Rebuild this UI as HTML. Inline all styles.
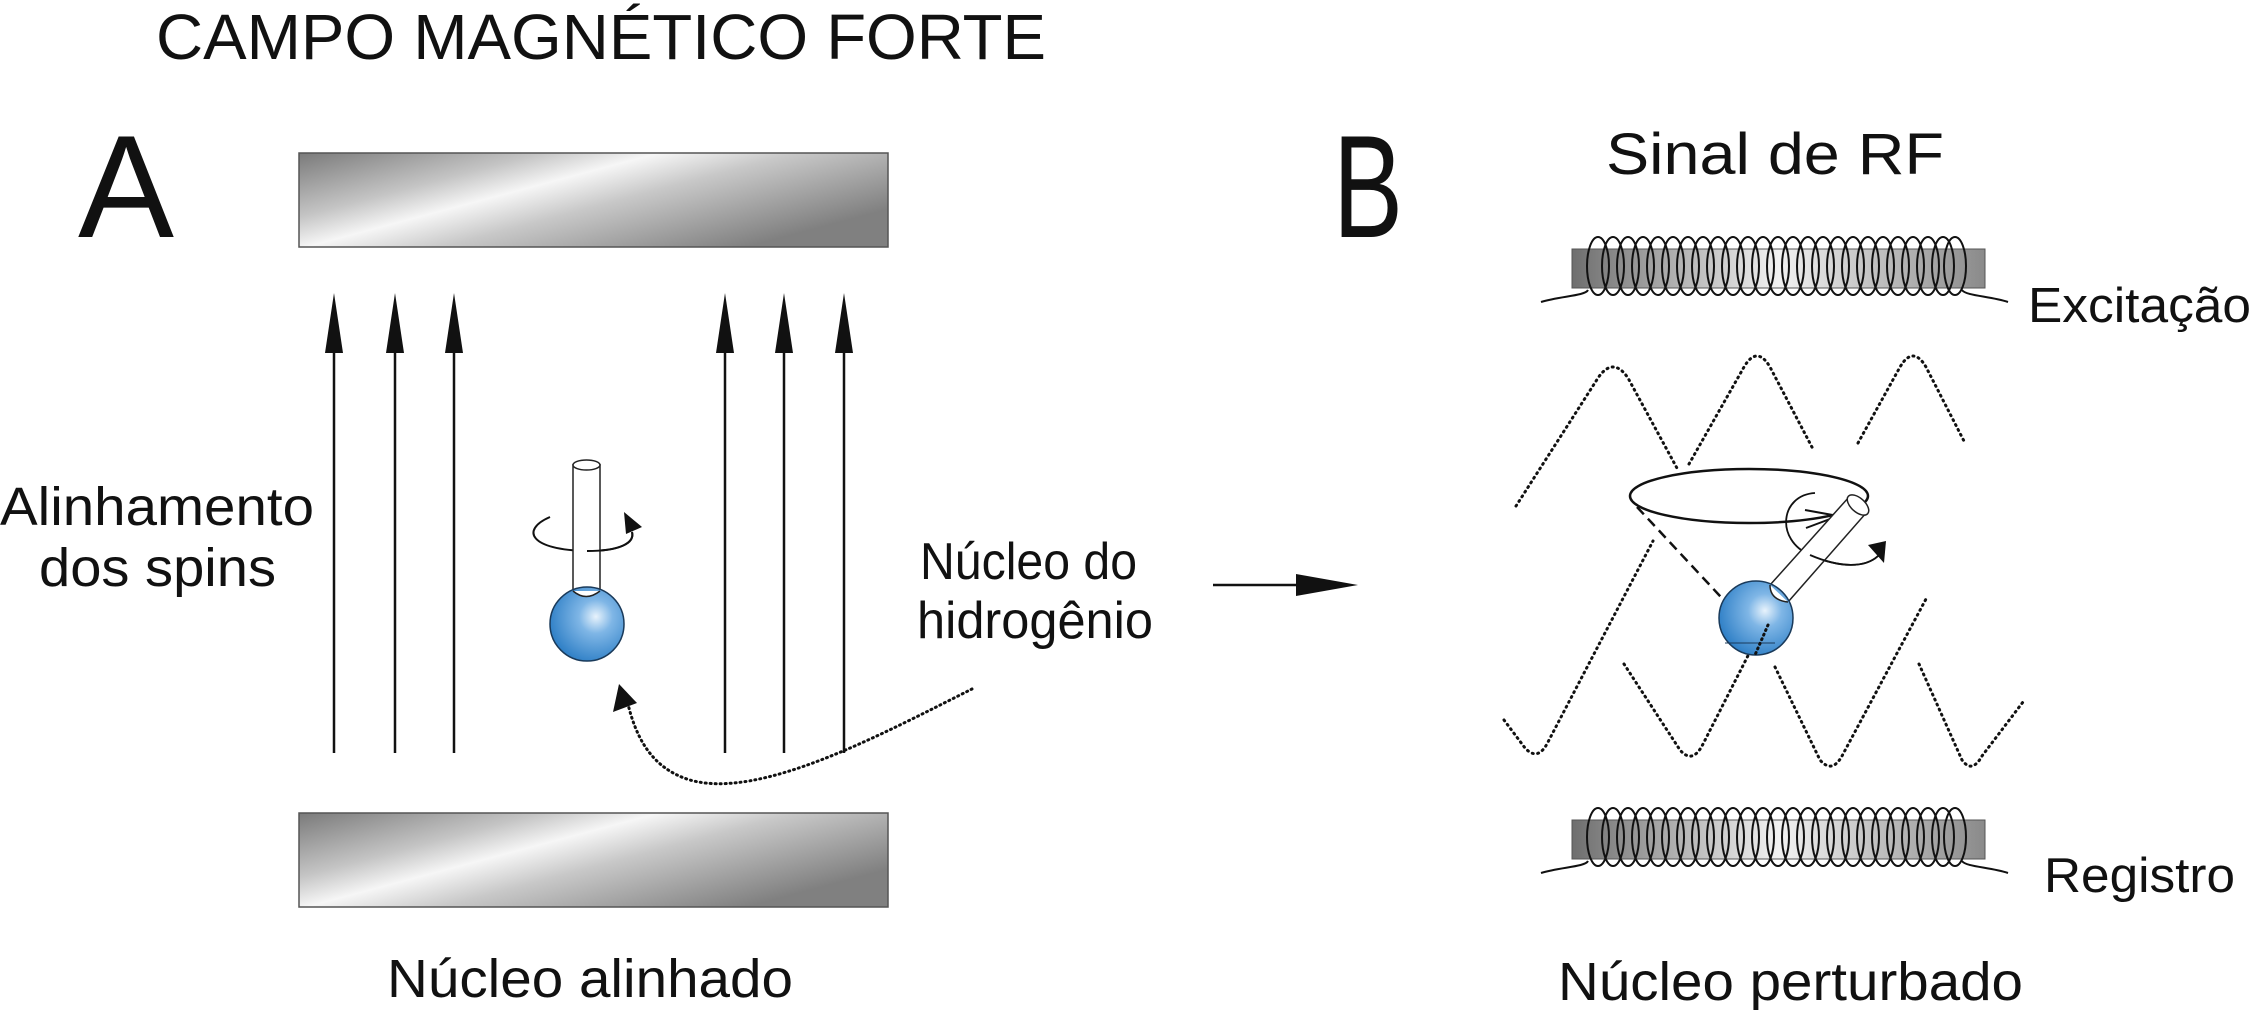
<!DOCTYPE html>
<html><head><meta charset="utf-8"><style>html,body{margin:0;padding:0;background:#fff}svg{display:block}</style></head>
<body>
<svg width="2251" height="1010" viewBox="0 0 2251 1010" xmlns="http://www.w3.org/2000/svg" font-family="Liberation Sans, sans-serif" fill="#111">
<defs>
<linearGradient id="bar" x1="0" y1="0" x2="1" y2="0.6">
<stop offset="0" stop-color="#7a7a7a"/><stop offset="0.3" stop-color="#c4c4c4"/><stop offset="0.45" stop-color="#f6f6f6"/><stop offset="0.62" stop-color="#c8c8c8"/><stop offset="1" stop-color="#808080"/>
</linearGradient>
<linearGradient id="coil" x1="0" y1="0" x2="1" y2="0">
<stop offset="0" stop-color="#6e6e6e"/><stop offset="0.5" stop-color="#f2f2f2"/><stop offset="1" stop-color="#8a8a8a"/>
</linearGradient>
<radialGradient id="ball" cx="0.62" cy="0.4" r="0.65">
<stop offset="0" stop-color="#e8f3fc"/><stop offset="0.35" stop-color="#7fb6e6"/><stop offset="1" stop-color="#2e7fc6"/>
</radialGradient>
<marker id="ah" viewBox="0 0 10 10" refX="10" refY="5" markerWidth="10" markerHeight="10" markerUnits="userSpaceOnUse" orient="auto"><path d="M0,0L10,5L0,10z" fill="#111"/></marker>
</defs>

<!-- Titles -->
<text x="156" y="59" font-size="64" textLength="890" lengthAdjust="spacingAndGlyphs">CAMPO MAGNÉTICO FORTE</text>
<text x="78" y="237" font-size="146" textLength="96" lengthAdjust="spacingAndGlyphs">A</text>
<text x="1333" y="237" font-size="146" textLength="70" lengthAdjust="spacingAndGlyphs">B</text>

<!-- Bars -->
<rect x="299" y="153" width="589" height="94" fill="url(#bar)" stroke="#555" stroke-width="1.5"/>
<rect x="299" y="813" width="589" height="94" fill="url(#bar)" stroke="#555" stroke-width="1.5"/>

<!-- Field arrows -->
<g stroke="#111" stroke-width="2.5">
<line x1="334" y1="753" x2="334" y2="345"/><line x1="395" y1="753" x2="395" y2="345"/><line x1="454" y1="753" x2="454" y2="345"/>
<line x1="725" y1="753" x2="725" y2="345"/><line x1="784" y1="753" x2="784" y2="345"/><line x1="844" y1="753" x2="844" y2="345"/>
</g>
<g fill="#111">
<path d="M334,293L325,353L343,353z"/><path d="M395,293L386,353L404,353z"/><path d="M454,293L445,353L463,353z"/>
<path d="M725,293L716,353L734,353z"/><path d="M784,293L775,353L793,353z"/><path d="M844,293L835,353L853,353z"/>
</g>

<text x="0" y="525" font-size="54" textLength="314" lengthAdjust="spacingAndGlyphs">Alinhamento</text>
<text x="39" y="586" font-size="54" textLength="237" lengthAdjust="spacingAndGlyphs">dos spins</text>

<!-- Left nucleus -->
<path d="M550,517 C520,530 530,550 587,551 C620,551 635,543 632,532" fill="none" stroke="#111" stroke-width="2"/>
<path d="M624,512L642,527L626,534z" fill="#111"/>
<rect x="573" y="465" width="27" height="128" fill="#fff" stroke="#222" stroke-width="1.5"/>
<ellipse cx="586.5" cy="465" rx="13.5" ry="5" fill="#fff" stroke="#222" stroke-width="1.5"/>
<path d="M587,551 C620,551 635,543 632,532" fill="none" stroke="#111" stroke-width="2"/>
<circle cx="587" cy="624" r="37" fill="url(#ball)" stroke="#1a3a5a" stroke-width="1.5"/>
<path d="M573,591 Q586,602 600,591" fill="#fff" stroke="#222" stroke-width="1.5"/>

<!-- dotted curve -->
<path d="M972,689 C880,735 760,800 690,780 C650,768 635,735 627,700" fill="none" stroke="#111" stroke-width="3" stroke-dasharray="1 4" stroke-linecap="round"/>
<path d="M619,684L613,712L637,703z" fill="#111"/>

<text x="920" y="579" font-size="52" textLength="217" lengthAdjust="spacingAndGlyphs">Núcleo do</text>
<text x="917" y="638" font-size="52" textLength="236" lengthAdjust="spacingAndGlyphs">hidrogênio</text>

<!-- Big arrow -->
<line x1="1213" y1="585" x2="1300" y2="585" stroke="#111" stroke-width="2.5"/>
<path d="M1358,585L1296,574L1296,596z" fill="#111"/>

<text x="1606" y="174" font-size="58" textLength="338" lengthAdjust="spacingAndGlyphs">Sinal de RF</text>

<!-- Top coil -->
<g id="coilg">
<rect x="1572" y="249" width="413" height="39" fill="url(#coil)" stroke="#555" stroke-width="1"/>
<g fill="none" stroke="#111" stroke-width="2">
<path d="M1541,302 C1560,296 1585,296 1588,290"/>
<path d="M1962,290 C1966,296 1990,296 2008,302"/>
</g>
<g fill="none" stroke="#111" stroke-width="2" id="loops"></g>
</g>
<g fill="none" stroke="#111" stroke-width="2">
<ellipse cx="1598" cy="266" rx="11" ry="29"/><ellipse cx="1613" cy="266" rx="11" ry="29"/><ellipse cx="1628" cy="266" rx="11" ry="29"/><ellipse cx="1643" cy="266" rx="11" ry="29"/><ellipse cx="1658" cy="266" rx="11" ry="29"/><ellipse cx="1673" cy="266" rx="11" ry="29"/><ellipse cx="1688" cy="266" rx="11" ry="29"/><ellipse cx="1703" cy="266" rx="11" ry="29"/><ellipse cx="1718" cy="266" rx="11" ry="29"/><ellipse cx="1733" cy="266" rx="11" ry="29"/><ellipse cx="1748" cy="266" rx="11" ry="29"/><ellipse cx="1763" cy="266" rx="11" ry="29"/><ellipse cx="1778" cy="266" rx="11" ry="29"/><ellipse cx="1793" cy="266" rx="11" ry="29"/><ellipse cx="1808" cy="266" rx="11" ry="29"/><ellipse cx="1823" cy="266" rx="11" ry="29"/><ellipse cx="1838" cy="266" rx="11" ry="29"/><ellipse cx="1853" cy="266" rx="11" ry="29"/><ellipse cx="1868" cy="266" rx="11" ry="29"/><ellipse cx="1883" cy="266" rx="11" ry="29"/><ellipse cx="1898" cy="266" rx="11" ry="29"/><ellipse cx="1913" cy="266" rx="11" ry="29"/><ellipse cx="1928" cy="266" rx="11" ry="29"/><ellipse cx="1943" cy="266" rx="11" ry="29"/><ellipse cx="1955" cy="266" rx="11" ry="29"/>
</g>
<text x="2028" y="322" font-size="49" textLength="223" lengthAdjust="spacingAndGlyphs">Excitação</text>

<!-- Bottom coil -->
<rect x="1572" y="820" width="413" height="39" fill="url(#coil)" stroke="#555" stroke-width="1"/>
<g fill="none" stroke="#111" stroke-width="2">
<path d="M1541,873 C1560,867 1585,867 1588,861"/>
<path d="M1962,861 C1966,867 1990,867 2008,873"/>
<ellipse cx="1598" cy="837" rx="11" ry="29"/><ellipse cx="1613" cy="837" rx="11" ry="29"/><ellipse cx="1628" cy="837" rx="11" ry="29"/><ellipse cx="1643" cy="837" rx="11" ry="29"/><ellipse cx="1658" cy="837" rx="11" ry="29"/><ellipse cx="1673" cy="837" rx="11" ry="29"/><ellipse cx="1688" cy="837" rx="11" ry="29"/><ellipse cx="1703" cy="837" rx="11" ry="29"/><ellipse cx="1718" cy="837" rx="11" ry="29"/><ellipse cx="1733" cy="837" rx="11" ry="29"/><ellipse cx="1748" cy="837" rx="11" ry="29"/><ellipse cx="1763" cy="837" rx="11" ry="29"/><ellipse cx="1778" cy="837" rx="11" ry="29"/><ellipse cx="1793" cy="837" rx="11" ry="29"/><ellipse cx="1808" cy="837" rx="11" ry="29"/><ellipse cx="1823" cy="837" rx="11" ry="29"/><ellipse cx="1838" cy="837" rx="11" ry="29"/><ellipse cx="1853" cy="837" rx="11" ry="29"/><ellipse cx="1868" cy="837" rx="11" ry="29"/><ellipse cx="1883" cy="837" rx="11" ry="29"/><ellipse cx="1898" cy="837" rx="11" ry="29"/><ellipse cx="1913" cy="837" rx="11" ry="29"/><ellipse cx="1928" cy="837" rx="11" ry="29"/><ellipse cx="1943" cy="837" rx="11" ry="29"/><ellipse cx="1955" cy="837" rx="11" ry="29"/>
</g>
<text x="2044" y="892" font-size="49" textLength="191" lengthAdjust="spacingAndGlyphs">Registro</text>

<!-- Dotted waves -->
<g fill="none" stroke="#111" stroke-width="3" stroke-dasharray="1 4.5" stroke-linecap="round">
<path d="M1516,506 L1598,378 Q1613,356 1628,378 L1678,470"/>
<path d="M1689,464 L1744,367 Q1757,345 1770,367 L1814,451"/>
<path d="M1858,443 L1900,367 Q1913,345 1926,367 L1965,443"/>
<path d="M1504,720 L1525,748 Q1538,762 1548,742 L1653,541"/>
<path d="M1624,664 L1680,750 Q1692,764 1702,746 L1757,638"/>
<path d="M1775,667 L1820,760 Q1832,774 1842,756 L1926,599"/>
<path d="M1919,664 L1962,760 Q1972,774 1982,756 L2023,702"/>
</g>

<!-- Precessing nucleus -->
<ellipse cx="1749" cy="496" rx="119" ry="27" fill="none" stroke="#111" stroke-width="2.5"/>
<path d="M1805,510 L1838,516 L1806,528" fill="none" stroke="#111" stroke-width="2"/>
<line x1="1637" y1="507" x2="1747" y2="625" stroke="#111" stroke-width="2.5" stroke-dasharray="10 6"/>
<path d="M1815,493 C1780,495 1775,540 1810,555 C1840,568 1865,568 1878,556" fill="none" stroke="#111" stroke-width="1.8"/>
<path d="M1868,545L1886,541L1884,563z" fill="#111"/>
<polygon points="1770,585 1849,497 1867,512 1788,602" fill="#fff" stroke="#222" stroke-width="1.5"/>
<ellipse cx="1858" cy="505" rx="13" ry="7" transform="rotate(42 1858 505)" fill="#fff" stroke="#222" stroke-width="1.5"/>
<circle cx="1756" cy="618" r="37" fill="url(#ball)" stroke="#1a3a5a" stroke-width="1.5"/>
<path d="M1770,585 Q1770,600 1788,602" fill="#fff" stroke="#222" stroke-width="1.5"/>
<line x1="1725" y1="643" x2="1775" y2="643" stroke="#1a3a5a" stroke-width="1"/>
<line x1="1768" y1="625" x2="1755" y2="655" stroke="#111" stroke-width="3" stroke-dasharray="1 4" stroke-linecap="round"/>
<path d="M1810,555 C1840,568 1865,568 1878,556" fill="none" stroke="#111" stroke-width="1.8"/>

<text x="387" y="997" font-size="54" textLength="406" lengthAdjust="spacingAndGlyphs">Núcleo alinhado</text>
<text x="1558" y="1000" font-size="54" textLength="465" lengthAdjust="spacingAndGlyphs">Núcleo perturbado</text>
</svg>
</body></html>
